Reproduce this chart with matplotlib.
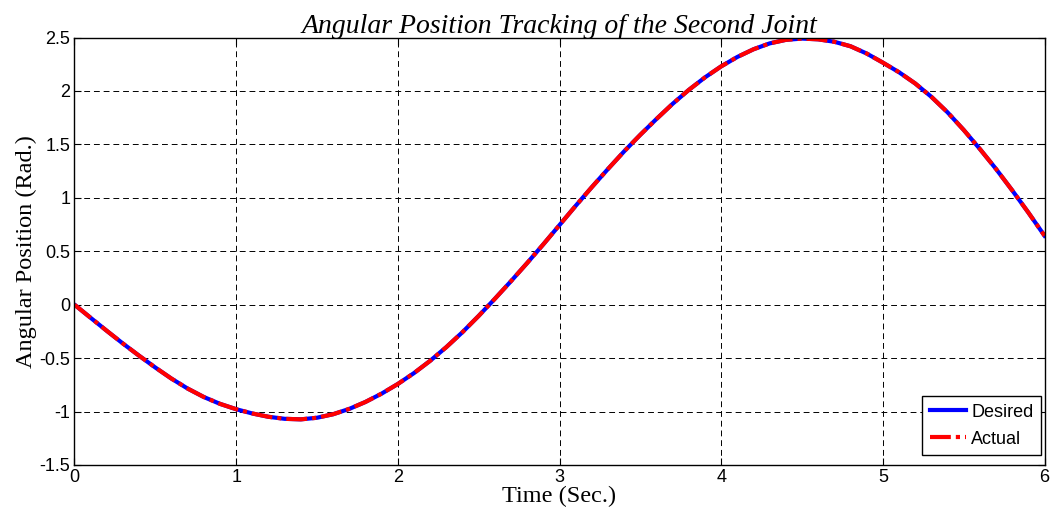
import matplotlib
matplotlib.use("Agg")
import matplotlib.pyplot as plt
import numpy as np

# time samples (sec.) and read-off angular position (rad.)
time = np.round(np.arange(0, 6.01, 0.1), 2)
desired = [
    0.000, -0.123, -0.245, -0.364, -0.478, -0.588, -0.692, -0.785, -0.864, -0.928,
    -0.978, -1.018, -1.049, -1.068, -1.073, -1.058, -1.025, -0.975, -0.910, -0.832,
    -0.742, -0.640, -0.525, -0.397, -0.257, -0.105, 0.055, 0.220, 0.390, 0.565,
    0.745, 0.925, 1.100, 1.270, 1.435, 1.590, 1.738, 1.880, 2.010, 2.127,
    2.230, 2.318, 2.390, 2.445, 2.478, 2.490, 2.483, 2.460, 2.418, 2.350,
    2.265, 2.175, 2.070, 1.945, 1.800, 1.635, 1.457, 1.270, 1.070, 0.862,
    0.645,
]
actual = list(desired)

xticks = [0, 1, 2, 3, 4, 5, 6]
yticks = [-1.5, -1, -0.5, 0, 0.5, 1, 1.5, 2, 2.5]
ytick_labels = ["-1.5", "-1", "-0.5", "0", "0.5", "1", "1.5", "2", "2.5"]

plt.rcParams["font.family"] = ["Liberation Sans", "DejaVu Sans"]

fig = plt.figure(figsize=(10.52, 5.26), dpi=100)
ax = fig.add_axes([0.0708, 0.116, 0.9221, 0.8127])

ax.plot(time, desired, color="#0000ff", lw=3, label="Desired")
ax.plot(time, actual, color="#ff0000", lw=3, linestyle=(0, (5, 1.2, 1, 1.2)),
        label="Actual")

ax.set_xlim(0, 6)
ax.set_ylim(-1.5, 2.5)
ax.set_xticks(xticks)
ax.set_xticklabels([str(v) for v in xticks])
ax.set_yticks(yticks)
ax.set_yticklabels(ytick_labels)
ax.tick_params(direction="in", top=True, right=True, labelsize=13, length=5,
               width=0.8, pad=3)
ax.grid(True, color="black", linestyle=(0, (6, 4)), lw=0.7)
for s in ax.spines.values():
    s.set_linewidth(1.0)

serif = ["Liberation Serif", "DejaVu Serif"]
ax.set_title("Angular Position Tracking of the Second Joint", family=serif,
             style="italic", fontsize=20, pad=3)
ax.set_xlabel("Time (Sec.)", family=serif, fontsize=17.5, labelpad=0)
ax.set_ylabel("Angular Position (Rad.)", family=serif, fontsize=17.5, labelpad=2)

leg = ax.legend(loc="lower right", bbox_to_anchor=(0.996, 0.024), fontsize=13,
                fancybox=False, framealpha=1, edgecolor="black",
                borderaxespad=0, handlelength=2.0, borderpad=0.4,
                labelspacing=0.55, handletextpad=0.3)
leg.get_frame().set_linewidth(1.0)

fig.savefig("out.png", dpi=100)
